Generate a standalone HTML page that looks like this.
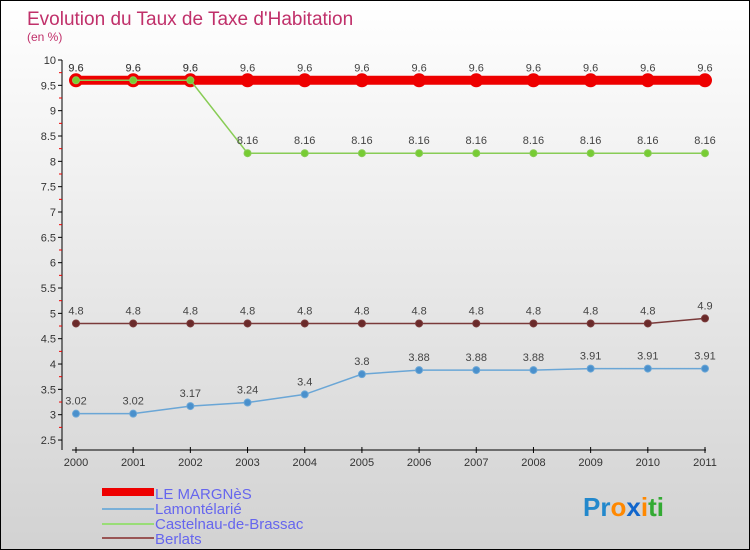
<!DOCTYPE html>
<html><head><meta charset="utf-8"><style>
body{margin:0}
#wrap{width:748px;height:548px;border:1px solid #000;background:linear-gradient(#ffffff,#d2d2d2);position:relative;overflow:hidden;font-family:"Liberation Sans",sans-serif}
</style></head><body>
<div id="wrap">
<svg id="svg" width="748" height="548" xmlns="http://www.w3.org/2000/svg">
<text x="26" y="24" font-size="19" fill="#c0306a">Evolution du Taux de Taxe d'Habitation</text>
<text x="26" y="40" font-size="12" fill="#c0306a">(en %)</text>
<g id="axes"></g><g id="series"></g>
<g>
<rect x="101" y="487" width="52" height="8" fill="#e00"/>
<text x="154" y="498" font-size="15" fill="#6666ee">LE MARGNèS</text>
<line x1="101" y1="508" x2="153" y2="508" stroke="#7ab0d8" stroke-width="2"/>
<text x="154" y="513" font-size="15" fill="#6666ee">Lamontélarié</text>
<line x1="101" y1="523" x2="153" y2="523" stroke="#99dd77" stroke-width="2"/>
<text x="154" y="528" font-size="15" fill="#6666ee">Castelnau-de-Brassac</text>
<line x1="101" y1="537" x2="153" y2="537" stroke="#995555" stroke-width="2"/>
<text x="154" y="543" font-size="15" fill="#6666ee">Berlats</text>
</g>
<g font-size="26" font-weight="bold">
<text x="582" y="515"><tspan fill="#2288cc">Pr</tspan><tspan fill="#ff8800">o</tspan><tspan fill="#1166cc">x</tspan><tspan fill="#ff8800">i</tspan><tspan fill="#33aa33">ti</tspan></text>
</g>
</svg></div>
<script>
const years=[2000,2001,2002,2003,2004,2005,2006,2007,2008,2009,2010,2011];
const yTicks=[2.5,3,3.5,4,4.5,5,5.5,6,6.5,7,7.5,8,8.5,9,9.5,10];
const margnes=[9.6,9.6,9.6,9.6,9.6,9.6,9.6,9.6,9.6,9.6,9.6,9.6];
const lamont=[3.02,3.02,3.17,3.24,3.4,3.8,3.88,3.88,3.88,3.91,3.91,3.91];
const castel=[9.6,9.6,9.6,8.16,8.16,8.16,8.16,8.16,8.16,8.16,8.16,8.16];
const berlats=[4.8,4.8,4.8,4.8,4.8,4.8,4.8,4.8,4.8,4.8,4.8,4.9];
const NS="http://www.w3.org/2000/svg";
function X(i){return 75+i*(704-75)/(years.length-1);}
function Y(v){return 59+(10-v)*50.67;}
function mk(t,a,p){const e=document.createElementNS(NS,t);for(const k in a)e.setAttribute(k,a[k]);p.appendChild(e);return e;}
const ax=document.getElementById('axes'),sg=document.getElementById('series');
let yl=mk('line',{x1:61,y1:59,x2:61,y2:449,stroke:'#000'},ax);


let xl=mk('line',{x1:71,y1:449,x2:705,y2:449,stroke:'#000'},ax);


yTicks.forEach(v=>{const y=Y(v);mk('line',{x1:57,y1:y,x2:61,y2:y,stroke:'#000'},ax);
if(v<10)mk('line',{x1:58,y1:Y(v+0.25),x2:61,y2:Y(v+0.25),stroke:'#e00'},ax);
const t=mk('text',{x:55,y:y+4,'text-anchor':'end','font-size':11,fill:'#333'},ax);t.textContent=String(v);

});
years.forEach((yr,i)=>{const x=X(i);mk('line',{x1:x,y1:446,x2:x,y2:452,stroke:'#000'},ax);
const t=mk('text',{x:x,y:465,'text-anchor':'middle','font-size':11,fill:'#333'},ax);t.textContent=yr;

});
function series(d,col,w,r,fill,name){
const pts=d.map((v,i)=>X(i)+','+Y(v)).join(' ');
const l=mk('polyline',{points:pts,fill:'none',stroke:col,'stroke-width':w},sg);


d.forEach((v,i)=>{const c=mk('circle',{cx:X(i),cy:Y(v),r:r,fill:fill,stroke:col,'stroke-width':1},sg);


const t=mk('text',{x:X(i),y:Y(v)-9,'text-anchor':'middle','font-size':11,fill:'#444'},sg);t.textContent=String(v);

});}
series(margnes,'#e00',9,6.5,'#e00','le-margnes');
series(berlats,'#7a3a3a',1.5,3.5,'#6a2a2a','berlats');
series(lamont,'#6aa6d6',1.5,3.5,'#4a90cc','lamontelarie');
series(castel,'#88cc55',1.5,3.5,'#77cc33','castelnau');
</script>
</body></html>
